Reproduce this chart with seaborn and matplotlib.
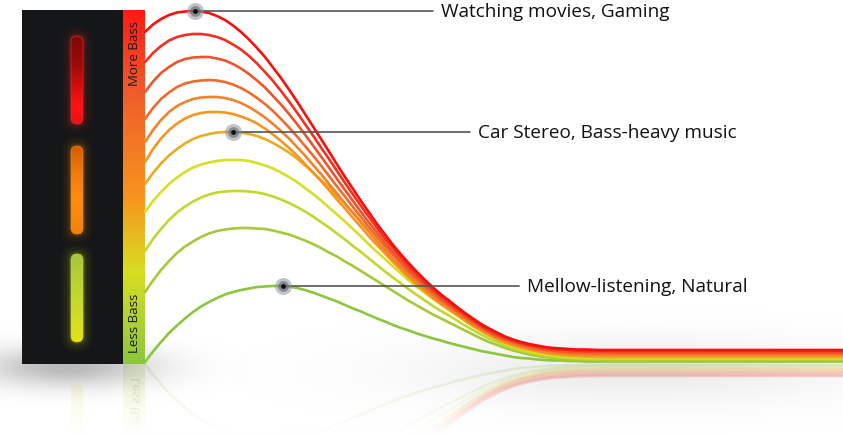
import numpy as np
import pandas as pd
import matplotlib
matplotlib.use("Agg")
import matplotlib.pyplot as plt
import seaborn as sns
from matplotlib.patches import FancyBboxPatch, Rectangle, PathPatch
from matplotlib.colors import LinearSegmentedColormap, to_rgb
from matplotlib.textpath import TextPath
from matplotlib.font_manager import FontProperties
import matplotlib.transforms as mtransforms

# ---------------- data (frequency position, bass level in half-pixel units) ----------------
freq = [145,153,161,169,177,185,193,201,209,217,225,233,241,249,257,265,273,281,289,297,
        305,313,321,329,337,345,353,361,369,377,385,393,401,409,417,425,433,441,449,457,
        465,473,481,489,497,505,513,521,529,537,545,553,561,569,577,585,600,620,843]

g0 = [664,679,690,698,703,705,706,705,702,696,688,677,664,649,632,614,593,572,549,525,500,475,450,425,399,374,350,326,303,280,259,238,219,201,184,168,153,139,127,114,102,91,80,71,63,55,49,44,40,37,34,32,31,30,29,29,28,28,28]
g1 = [604,622,636,647,654,658,660,660,658,654,648,639,629,616,601,584,566,546,525,503,480,457,433,410,386,362,339,316,294,272,251,232,213,195,179,163,149,136,123,111,99,88,77,68,60,53,47,42,38,35,32,30,29,28,27,26,26,26,26]
g2 = [544,565,582,594,604,610,613,614,614,611,607,600,591,580,567,553,536,519,500,480,459,437,415,393,370,348,326,304,283,263,243,224,206,189,173,158,144,131,119,107,96,85,74,65,57,50,45,40,36,32,30,28,26,25,25,24,24,23,23]
g3 = [490,512,530,543,554,561,565,567,568,567,564,559,552,543,532,520,506,490,473,455,436,417,397,376,355,335,314,294,274,255,236,218,201,184,169,154,141,128,117,105,93,83,73,63,55,49,43,38,34,30,28,26,24,23,22,22,21,21,21]
g4 = [444,468,488,504,516,524,530,533,534,534,532,528,522,514,504,493,480,466,451,434,417,398,380,360,341,321,302,283,264,245,228,210,194,178,163,149,136,124,113,101,90,79,70,61,53,46,40,35,31,28,25,23,22,21,20,19,19,19,19]
g5 = [404,430,451,468,481,491,498,502,504,504,503,500,495,489,481,471,459,446,432,417,400,383,366,348,329,311,292,274,255,238,221,204,188,173,158,145,132,120,109,98,87,76,67,58,50,43,38,33,29,26,23,21,20,18,18,17,17,16,16]
g6 = [360,382,401,417,430,441,450,456,460,463,464,464,463,460,456,450,442,433,423,411,397,383,368,353,336,320,303,285,268,251,235,218,202,187,172,158,145,133,121,108,96,85,74,64,55,47,40,34,30,26,22,20,18,17,16,15,14,14,14]
g7 = [304,326,344,360,373,384,393,399,403,406,408,408,408,406,402,397,391,383,374,364,352,340,327,313,299,285,270,255,239,224,210,195,181,167,154,142,130,119,108,97,86,76,66,57,49,42,36,30,26,22,19,17,15,14,13,13,12,12,12]
g8 = [226,250,270,288,303,315,325,333,339,343,345,346,346,345,343,340,335,329,322,314,305,295,284,273,261,249,236,224,211,198,185,173,161,149,138,127,116,106,97,87,77,68,59,51,44,37,31,27,23,19,17,15,13,12,11,10,10,10,10]
g9 = [144,167,188,206,222,235,245,254,261,266,269,271,272,272,271,270,267,263,259,253,247,240,232,223,215,205,196,186,176,166,156,146,136,126,117,108,99,91,83,75,67,59,51,44,38,32,27,23,19,16,14,12,10,9,8,8,7,7,7]
g10 = [4,25,44,62,77,91,104,115,124,132,139,144,148,151,154,155,156,156,155,152,148,143,137,131,125,118,111,105,98,91,85,78,72,67,61,56,51,47,42,38,34,30,26,23,20,17,14,12,11,9,8,7,7,6,6,5,5,5,5]

curve_levels = [g0, g1, g2, g3, g4, g5, g6, g7, g8, g9, g10]
curve_names = ["c0", "c1", "c2", "c3", "c4", "c5", "c6", "c7", "c8", "c9", "c10"]
curve_colors = ["#f90f0c", "#f42f1f", "#ef532b", "#f06a2c", "#f4822a", "#f6951f",
                "#e9ac23", "#d7df23", "#c3d72e", "#a5c93a", "#8cc63f"]

ann_freq = [195, 233, 283]
ann_level = [706, 464, 156]
ann_text = ["Watching movies, Gaming", "Car Stereo, Bass-heavy music", "Mellow-listening, Natural"]
ann_text_freq = [441, 478, 527]

scale_labels = ["More Bass", "Less Bass"]

# ---------------- figure ----------------
sns.set_theme(style="white")
plt.rcParams['font.family'] = ['Open Sans', 'DejaVu Sans']

W, H = 843, 435
LEVEL_LIM = (-140, 730)   # level axis range covering the canvas
MIRROR_LEVEL = 2

fig = plt.figure(figsize=(W/100, H/100), dpi=100)
fig.patch.set_facecolor("white")

axr = fig.add_axes([0, 0, 1, 1], zorder=0)   # reflections
ax = fig.add_axes([0, 0, 1, 1], zorder=1)    # decoration (pixel space)
axc = fig.add_axes([0, 0, 1, 1], zorder=2)   # curves
for a in (axr, ax, axc):
    a.axis('off')
ax.patch.set_visible(False)
axc.patch.set_visible(False)

df = pd.DataFrame({
    "freq": np.tile(freq, len(curve_levels)),
    "level": np.concatenate(curve_levels),
    "curve": np.repeat(curve_names, len(freq)),
})
palette = dict(zip(curve_names, curve_colors))

# reflection of the curves
dfr = df.assign(level=2*MIRROR_LEVEL - df["level"])
sns.lineplot(data=dfr, x="freq", y="level", hue="curve", hue_order=curve_names[::-1], palette=palette,
             linewidth=1.9, legend=False, sort=False, estimator=None, ax=axr, alpha=0.3)
axr.set_xlim(0, W); axr.set_ylim(*LEVEL_LIM); axr.axis('off')

# decoration helpers (pixel space, y down)
ax.set_xlim(0, W); ax.set_ylim(H, 0)

def blob(cx, cy, sx, sy, amax, color, z):
    xs = np.linspace(cx-3*sx, cx+3*sx, 200); ys = np.linspace(cy-3*sy, cy+3*sy, 120)
    gx, gy = np.meshgrid(xs, ys)
    a = amax*np.exp(-((gx-cx)/sx)**2/2 - ((gy-cy)/sy)**2/2)
    img = np.zeros(gx.shape+(4,)); img[..., :3] = to_rgb(color); img[..., 3] = a
    ax.imshow(img, extent=(cx-3*sx, cx+3*sx, cy+3*sy, cy-3*sy), zorder=z, interpolation='bilinear', aspect='auto')

def vgrad(x0, x1, y0, y1, stops, z, alpha=1.0, clip=None):
    cmap = LinearSegmentedColormap.from_list('g', stops)
    g = np.linspace(0, 1, 256).reshape(-1, 1)
    im = ax.imshow(g, cmap=cmap, extent=(x0, x1, y1, y0), zorder=z, aspect='auto', alpha=alpha, interpolation='bilinear')
    if clip is not None:
        im.set_clip_path(clip)
    return im

bar_stops = [(0, "#ff1a14"), (0.22, "#f05a2c"), (0.53, "#f7941d"), (0.74, "#d7df23"), (1.0, "#8cc63f")]

# reflections of panel pieces
vgrad(123, 145, 365, 435, [(0, "#8cc63f"), (0.4, "#c8dc30"), (1, "#e0e030")], 1, alpha=0.35)
ax.add_patch(FancyBboxPatch((77, 391), 0, 76, boxstyle="round,pad=6", fc="#e4e450", ec="none", alpha=0.4, zorder=1))
tp = TextPath((0, 0), scale_labels[1], size=12.5, prop=FontProperties(family='Open Sans'))
wt = tp.get_extents().width
tr = mtransforms.Affine2D(np.array([[0, -1, 139.5], [1, 0, 406 - wt/2], [0, 0, 1]])) + ax.transData
ax.add_patch(PathPatch(tp, transform=tr, fc="#222222", ec="none", alpha=0.35, zorder=1))

# fade of the reflection
fade = np.ones((100, 1, 4)); fade[..., 3] = np.linspace(0.35, 1.0, 100)[:, None]
ax.imshow(fade, extent=(0, W, 435, 364), zorder=2, aspect='auto')

# soft shadows
blob(68, 368, 60, 14, 0.55, "#808080", 3)
blob(630, 372, 150, 24, 0.15, "#808080", 3)

# dark LED panel and gradient scale bar
ax.add_patch(Rectangle((22, 11), 101, 354, fc="#141617", ec="none", zorder=5))
vgrad(123, 145, 11, 365, bar_stops, 6)

def pill(y0, y1, stops, glow):
    for k, a in [(10, 0.03), (7, 0.05), (4, 0.08), (2, 0.12)]:
        ax.add_patch(FancyBboxPatch((77, y0+6), 0, y1-y0-12, boxstyle=f"round,pad={6+k}", fc=glow, ec="none", alpha=a, zorder=6))
    p = FancyBboxPatch((77, y0+6), 0, y1-y0-12, boxstyle="round,pad=6", fc="none", ec="none", zorder=7)
    ax.add_patch(p)
    vgrad(71, 83, y0, y1, stops, 7, clip=p)
    ax.add_patch(FancyBboxPatch((77, y0+6), 0, y1-y0-12, boxstyle="round,pad=6", fc="none", ec=glow, lw=0.6, alpha=0.7, zorder=8))

pill(37, 125, [(0, "#7a0808"), (0.35, "#a00b0b"), (0.65, "#e01010"), (0.8, "#ff1414"), (1, "#e81212")], "#ff2a2a")
pill(147, 235, [(0, "#d25a06"), (0.3, "#ef7a0e"), (0.6, "#ff8c12"), (1, "#f2820e")], "#ff8a10")
pill(255, 343, [(0, "#a6c640"), (0.5, "#c4d830"), (1, "#e2e418")], "#d8e028")

ax.text(134, 53, scale_labels[0], rotation=90, ha="center", va="center", fontsize=9.5, color="#1a1a1a", zorder=9)
ax.text(134, 323, scale_labels[1], rotation=90, ha="center", va="center", fontsize=9.5, color="#1a1a1a", zorder=9)
ax.set_xlim(0, W); ax.set_ylim(H, 0); ax.axis('off')

# curves
sns.lineplot(data=df, x="freq", y="level", hue="curve", hue_order=curve_names[::-1], palette=palette,
             linewidth=1.9, legend=False, sort=False, estimator=None, ax=axc)

for x, y, t, tx in zip(ann_freq, ann_level, ann_text, ann_text_freq):
    axc.plot([x, tx-8], [y, y], color="#555555", lw=1.2, zorder=11)
    axc.text(tx, y, t, ha="left", va="center", fontsize=13.7, color="#111111", zorder=12)
axc.scatter(ann_freq, ann_level, s=150, color="#8f959b", alpha=0.55, zorder=13, linewidths=0)
axc.scatter(ann_freq, ann_level, s=60, color="#5e646a", alpha=0.6, zorder=13, linewidths=0)
axc.scatter(ann_freq, ann_level, s=12, color="#0d0d0d", zorder=14, linewidths=0)
axc.set_xlim(0, W); axc.set_ylim(*LEVEL_LIM); axc.axis('off')

fig.savefig("out.png", dpi=100, facecolor="white")
